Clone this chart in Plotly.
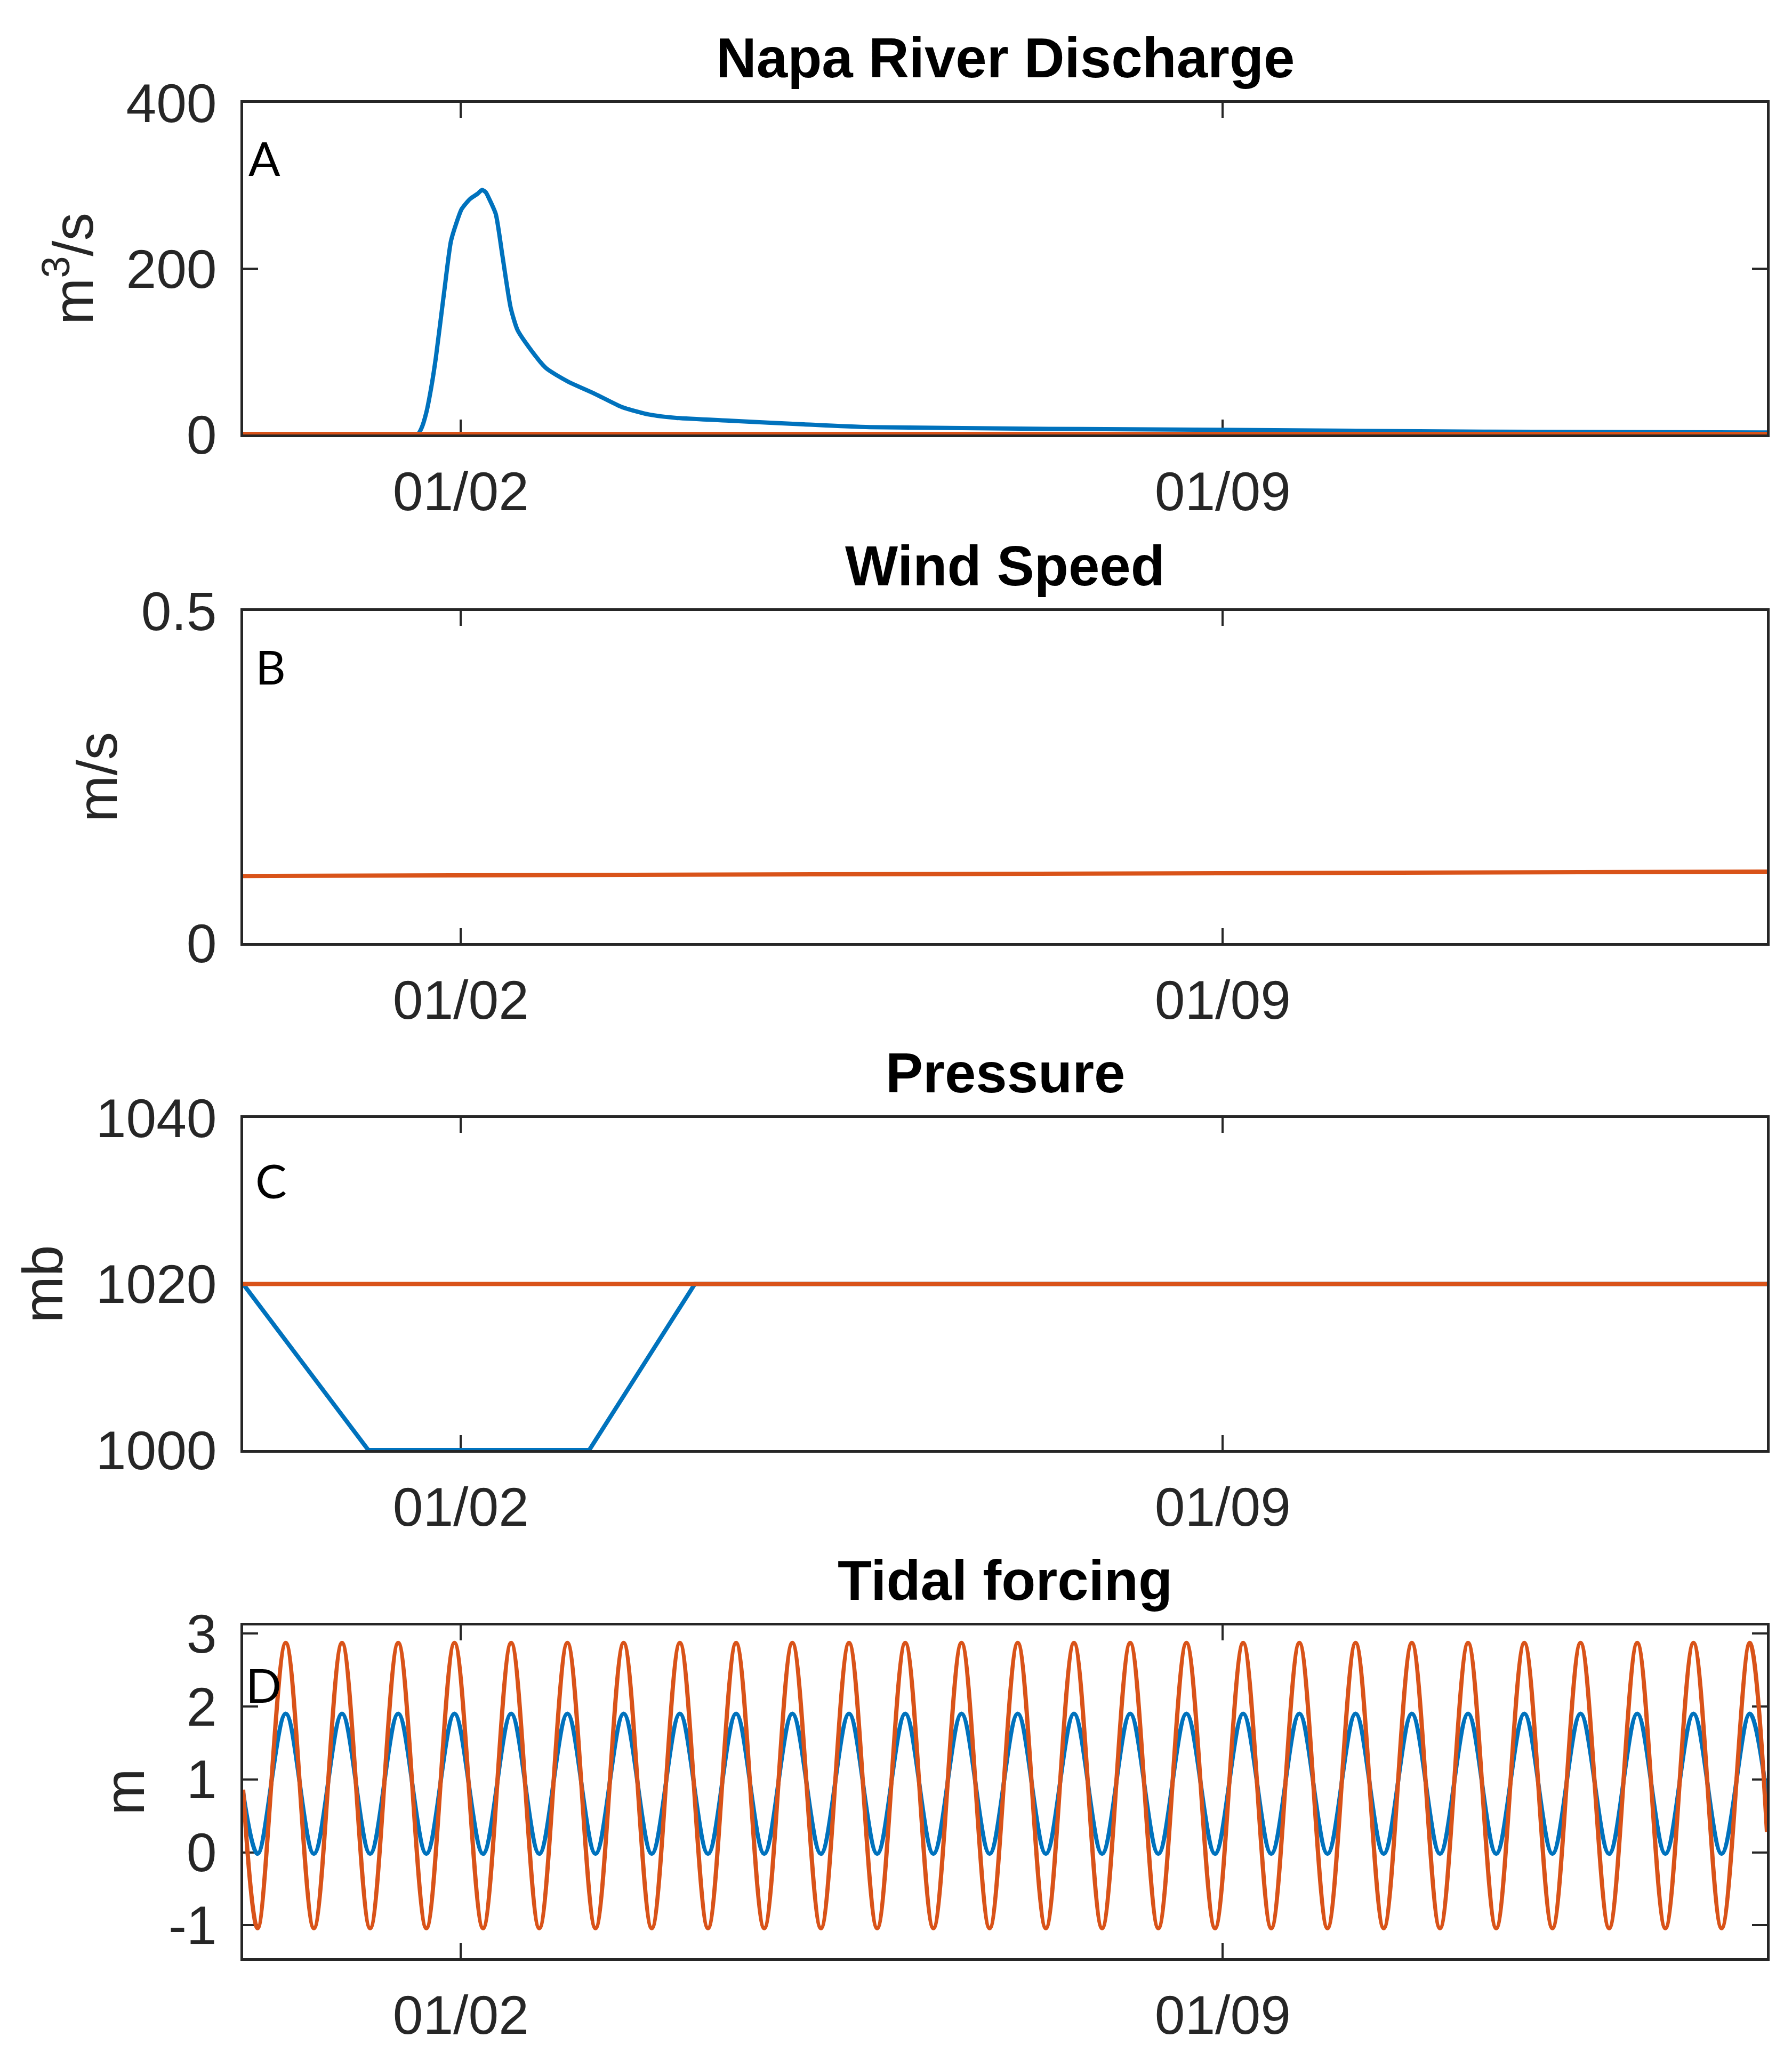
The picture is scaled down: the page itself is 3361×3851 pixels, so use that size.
import pandas as pd
import plotly.graph_objects as go

W, H = 3361, 3851
start = pd.Timestamp('2016-12-31')

# --- data ---
# A: Napa River discharge (days since 12/31, m^3/s)
q_days = [0.0, 1.60, 1.640, 1.684, 1.730, 1.771, 1.846, 1.909, 1.959, 2.008, 2.084, 2.15,
          2.196, 2.230, 2.258, 2.321, 2.383, 2.458, 2.521, 2.633, 2.783, 2.982, 3.232,
          3.482, 3.732, 3.981, 4.481, 5.152, 5.76, 8.95, 11.4, 14.0]
q_blue = [0, 0, 8, 27, 58, 93, 171, 233, 255, 272, 284, 290,
          295, 292, 285, 266, 215, 153, 126, 104, 80, 64, 49,
          33, 24, 20, 16.6, 12.2, 8.8, 5.6, 3.4, 2.4]
q_orange_days = [0.0, 14.0]
q_orange = [0, 0]

# B: wind speed (m/s)
wind_days = [0.0, 14.0]
wind_orange = [0.101, 0.1075]

# C: pressure (mb)
p_days = [0.0, 1.15, 3.18, 4.15, 14.0]
p_blue = [1020, 1000, 1000, 1020, 1020]
p_orange_days = [0.0, 14.0]
p_orange = [1020, 1020]

# D: tidal forcing, high/low water times (hours since 12/31) and levels (m)
tide_hours = [0.0, 3.2, 9.4, 15.6, 21.8, 28.0, 34.2, 40.4, 46.6, 52.9, 59.1, 65.3, 71.5,
              77.7, 83.9, 90.1, 96.3, 102.5, 108.7, 114.9, 121.1, 127.4, 133.6, 139.8,
              146.0, 152.2, 158.4, 164.6, 170.8, 177.0, 183.2, 189.4, 195.6, 201.8,
              208.0, 214.3, 220.5, 226.7, 232.9, 239.1, 245.3, 251.5, 257.7, 263.9,
              270.1, 276.3, 282.5, 288.7, 294.9, 301.2, 307.4, 313.6, 319.8, 326.0,
              332.2, 336.0]
tide_orange = [0.86, -1.04, 2.87, -1.04, 2.87, -1.04, 2.87, -1.04, 2.87, -1.04, 2.87,
               -1.04, 2.87, -1.04, 2.87, -1.04, 2.87, -1.04, 2.87, -1.04, 2.87, -1.04,
               2.87, -1.04, 2.87, -1.04, 2.87, -1.04, 2.87, -1.04, 2.87, -1.04, 2.87,
               -1.04, 2.87, -1.04, 2.87, -1.04, 2.87, -1.04, 2.87, -1.04, 2.87, -1.04,
               2.87, -1.04, 2.87, -1.04, 2.87, -1.04, 2.87, -1.04, 2.87, -1.04, 2.87,
               0.28]
tide_blue = [0.82, -0.02, 1.90, -0.02, 1.90, -0.02, 1.90, -0.02, 1.90, -0.02, 1.90,
             -0.02, 1.90, -0.02, 1.90, -0.02, 1.90, -0.02, 1.90, -0.02, 1.90, -0.02,
             1.90, -0.02, 1.90, -0.02, 1.90, -0.02, 1.90, -0.02, 1.90, -0.02, 1.90,
             -0.02, 1.90, -0.02, 1.90, -0.02, 1.90, -0.02, 1.90, -0.02, 1.90, -0.02,
             1.90, -0.02, 1.90, -0.02, 1.90, -0.02, 1.90, -0.02, 1.90, -0.02, 1.90,
             0.75]

titles = ['Napa River Discharge', 'Wind Speed', 'Pressure', 'Tidal forcing']
ylabels = ['m<sup>3</sup>/s', 'm/s', 'mb', 'm']
letters = ['A', 'B', 'C', 'D']
yranges = [[0, 400], [0, 0.5], [1000, 1040], [-1.45, 3.11]]
yticks = [[0, 200, 400], [0, 0.5], [1000, 1020, 1040], [-1, 0, 1, 2, 3]]
yticktext = [['0', '200', '400'], ['0', '0.5'], ['1000', '1020', '1040'],
             ['-1', '0', '1', '2', '3']]

BLUE = '#0072BD'
ORANGE = '#D95319'
AXC = '#262626'


def days(d):
    return start + pd.to_timedelta(d, unit='D')


def hours(h):
    return start + pd.to_timedelta(h, unit='h')


# pixel layout of the four panels
left, right = 448, 3306
tops = [185, 1138, 2089, 3041]
bottoms = [807, 1761, 2712, 3665]
letter_x = [456, 469, 469, 451]
letter_y = [288, 1242, 2206, 3152]
label_standoff = [28, 12, 28, 12]

fig = go.Figure()
lw = 8

fig.add_trace(go.Scatter(x=days(q_days), y=q_blue, mode='lines',
                         line=dict(color=BLUE, width=lw, shape='spline', smoothing=0.6),
                         xaxis='x', yaxis='y'))
fig.add_trace(go.Scatter(x=days(q_orange_days), y=q_orange, mode='lines',
                         line=dict(color=ORANGE, width=lw + 2), xaxis='x', yaxis='y'))
fig.add_trace(go.Scatter(x=days(wind_days), y=wind_orange, mode='lines',
                         line=dict(color=ORANGE, width=lw), xaxis='x2', yaxis='y2'))
fig.add_trace(go.Scatter(x=days(p_days), y=p_blue, mode='lines',
                         line=dict(color=BLUE, width=lw), xaxis='x3', yaxis='y3'))
fig.add_trace(go.Scatter(x=days(p_orange_days), y=p_orange, mode='lines',
                         line=dict(color=ORANGE, width=lw), xaxis='x3', yaxis='y3'))
fig.add_trace(go.Scatter(x=hours(tide_hours), y=tide_blue, mode='lines',
                         line=dict(color=BLUE, width=lw, shape='spline', smoothing=1.0),
                         xaxis='x4', yaxis='y4'))
fig.add_trace(go.Scatter(x=hours(tide_hours), y=tide_orange, mode='lines',
                         line=dict(color=ORANGE, width=lw, shape='spline', smoothing=1.0),
                         xaxis='x4', yaxis='y4'))

layout = dict(width=W, height=H, margin=dict(l=0, r=0, t=0, b=0, autoexpand=False),
              paper_bgcolor='white', plot_bgcolor='white', showlegend=False,
              font=dict(family='Liberation Sans, Arial, sans-serif', color=AXC))
annotations = []
for i in range(4):
    n = '' if i == 0 else str(i + 1)
    dom_y = [1 - bottoms[i] / H, 1 - tops[i] / H]
    layout['xaxis' + n] = dict(
        domain=[left / W, right / W], anchor='y' + n, type='date', automargin=False,
        range=[days(0.0), days(14.0)],
        tickvals=[days(2.0), days(9.0)], ticktext=['01/02', '01/09'],
        ticks='inside', ticklen=28, tickwidth=4, tickcolor=AXC,
        showline=True, linecolor=AXC, linewidth=5, mirror='ticks',
        showgrid=False, zeroline=False, layer='below traces',
        tickfont=dict(size=102, color=AXC), ticklabelstandoff=15)
    layout['yaxis' + n] = dict(
        domain=dom_y, anchor='x' + n, range=yranges[i], automargin=False,
        tickvals=yticks[i], ticktext=yticktext[i],
        ticks='inside', ticklen=28, tickwidth=4, tickcolor=AXC,
        showline=True, linecolor=AXC, linewidth=5, mirror='ticks',
        showgrid=False, zeroline=False, layer='below traces',
        tickfont=dict(size=102, color=AXC), ticklabelstandoff=24,
        title=dict(text=ylabels[i], font=dict(size=105, color=AXC),
                   standoff=label_standoff[i]))
    annotations.append(dict(
        text='<b>' + titles[i] + '</b>', xref='paper', yref='paper',
        x=(left + right) / 2 / W, y=dom_y[1], xanchor='center', yanchor='bottom',
        yshift=24, showarrow=False, font=dict(size=105, color='black')))
    annotations.append(dict(
        text=letters[i], xref='paper', yref='paper',
        x=letter_x[i] / W, y=1 - letter_y[i] / H, xanchor='left', yanchor='middle',
        showarrow=False, font=dict(family='Lato, Open Sans, sans-serif', size=88,
                                   color='black')))
layout['annotations'] = annotations
fig.update_layout(**layout)

fig.write_html('out.html')
